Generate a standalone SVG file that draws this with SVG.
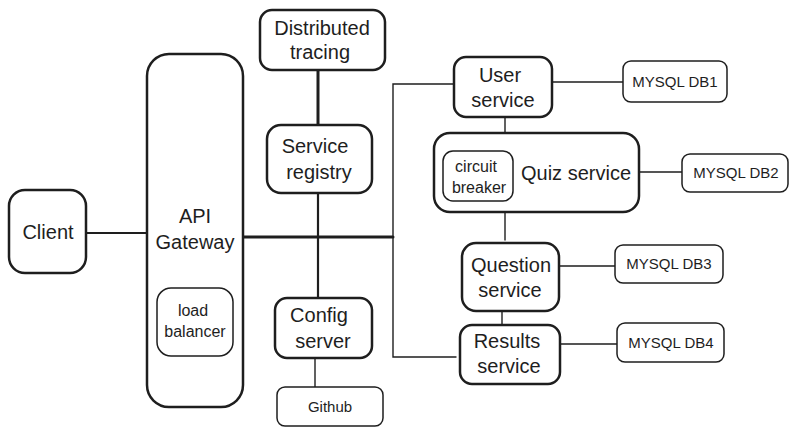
<svg xmlns="http://www.w3.org/2000/svg" width="798" height="435" viewBox="0 0 798 435">
<style>
.box{fill:#fff;stroke:#1e1e1e;stroke-width:2.5}
.sbox{fill:#fff;stroke:#1e1e1e;stroke-width:1.5}
.t{font-family:"Liberation Sans",Arial,sans-serif;font-size:20px;fill:#1e1e1e;text-anchor:middle}
.s{font-family:"Liberation Sans",Arial,sans-serif;font-size:15px;fill:#1e1e1e;text-anchor:middle}
.c{fill:none;stroke:#1e1e1e;stroke-linecap:round}
.thick{stroke-width:3}
.mid{stroke-width:2.2}
.thin{stroke-width:1.4}
</style>
<rect width="798" height="435" fill="#fff"/>
<g id="connectors">
<line class="c mid" x1="86" y1="233" x2="147" y2="233"/>
<line class="c thick" x1="243" y1="237" x2="393" y2="237"/>
<line class="c thick" x1="318" y1="70" x2="318" y2="125"/>
<line class="c mid" x1="318" y1="193" x2="318" y2="298"/>
<line class="c thin" x1="315" y1="358" x2="315" y2="387"/>
<polyline class="c thin" points="453,84 393,84 393,357 456,357"/>
<line class="c thin" x1="552" y1="82" x2="623" y2="82"/>
<line class="c thin" x1="505" y1="117" x2="505" y2="133"/>
<line class="c thin" x1="639" y1="172" x2="682" y2="172"/>
<line class="c thin" x1="505" y1="212" x2="505" y2="240"/>
<line class="c thin" x1="559" y1="266" x2="615" y2="266"/>
<line class="c thin" x1="502" y1="311" x2="502" y2="325"/>
<line class="c thin" x1="560" y1="344" x2="617" y2="344"/>
</g>
<g id="client">
<rect class="box" x="9" y="190" width="77" height="83" rx="16"/>
<text class="t" x="48" y="239">Client</text>
</g>
<g id="api-gateway">
<rect class="box" x="147" y="54" width="96" height="353" rx="22"/>
<text class="t" x="195" y="223">API</text>
<text class="t" x="195" y="249">Gateway</text>
</g>
<g id="load-balancer">
<rect class="sbox" x="157" y="288" width="76" height="68" rx="14"/>
<text class="s" x="193" y="316" style="font-size:16px">load</text>
<text class="s" x="195" y="337" style="font-size:16px">balancer</text>
</g>
<g id="distributed-tracing">
<rect class="box" x="260" y="10" width="125" height="60" rx="12"/>
<text class="t" x="322" y="35">Distributed</text>
<text class="t" x="320" y="59">tracing</text>
</g>
<g id="service-registry">
<rect class="box" x="267" y="125" width="105" height="68" rx="14"/>
<text class="t" x="315" y="153">Service</text>
<text class="t" x="319" y="179">registry</text>
</g>
<g id="config-server">
<rect class="box" x="275" y="298" width="97" height="60" rx="12"/>
<text class="t" x="319" y="322">Config</text>
<text class="t" x="323" y="348">server</text>
</g>
<g id="github">
<rect class="sbox" x="277" y="387" width="106" height="39" rx="8"/>
<text class="s" x="330" y="412">Github</text>
</g>
<g id="user-service">
<rect class="box" x="454" y="57" width="98" height="60" rx="12"/>
<text class="t" x="500" y="82">User</text>
<text class="t" x="503" y="107">service</text>
</g>
<g id="mysql-db1">
<rect class="sbox" x="623" y="61" width="104" height="41" rx="8"/>
<text class="s" x="675" y="87">MYSQL DB1</text>
</g>
<g id="quiz-service">
<rect class="box" x="434" y="133" width="205" height="79" rx="16"/>
<text class="t" x="576" y="180">Quiz service</text>
</g>
<g id="circuit-breaker">
<rect class="sbox" x="443" y="151" width="70" height="50" rx="10"/>
<text class="s" x="476" y="172" style="font-size:16px">circuit</text>
<text class="s" x="479" y="193" style="font-size:16px">breaker</text>
</g>
<g id="mysql-db2">
<rect class="sbox" x="682" y="154" width="106" height="38" rx="8"/>
<text class="s" x="736" y="178">MYSQL DB2</text>
</g>
<g id="question-service">
<rect class="box" x="462" y="243" width="97" height="68" rx="14"/>
<text class="t" x="511" y="272">Question</text>
<text class="t" x="510" y="297">service</text>
</g>
<g id="mysql-db3">
<rect class="sbox" x="615" y="245" width="108" height="38" rx="8"/>
<text class="s" x="669" y="269">MYSQL DB3</text>
</g>
<g id="results-service">
<rect class="box" x="460" y="325" width="100" height="59" rx="12"/>
<text class="t" x="507" y="348">Results</text>
<text class="t" x="509" y="373">service</text>
</g>
<g id="mysql-db4">
<rect class="sbox" x="617" y="323" width="107" height="39" rx="8"/>
<text class="s" x="671" y="348">MYSQL DB4</text>
</g>
</svg>
